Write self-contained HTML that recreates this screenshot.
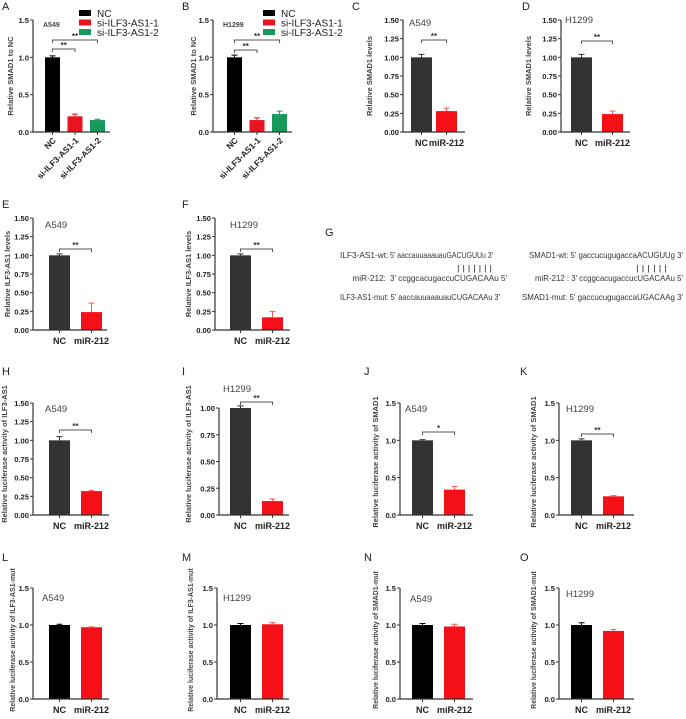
<!DOCTYPE html>
<html><head><meta charset="utf-8"><style>
html,body{margin:0;padding:0;background:#fff}
svg{display:block;font-family:"Liberation Sans",sans-serif}
</style></head><body>
<svg id="fig" width="686" height="719" viewBox="0 0 686 719" xmlns="http://www.w3.org/2000/svg">
<g id="gtext" font-size="8.3" fill="#333">
<text x="325" y="236" font-size="11" fill="#222">G</text>
<text x="340" y="258">ILF3-AS1-wt:</text>
<text x="390" y="258" textLength="103" lengthAdjust="spacingAndGlyphs">5' aaccauuaaauauGACUGUUu 3'</text>
<text x="457" y="271" textLength="35" lengthAdjust="spacingAndGlyphs">| | | | | | |</text>
<text x="386" y="281" text-anchor="end">miR-212:</text>
<text x="390" y="281" textLength="117" lengthAdjust="spacingAndGlyphs">3' ccggcacugaccuCUGACAAu  5'</text>
<text x="340" y="300" textLength="160" lengthAdjust="spacingAndGlyphs">ILF3-AS1-mut: 5' aaccauuaaauauCUGACAAu  3'</text>
<text x="529" y="258" textLength="154" lengthAdjust="spacingAndGlyphs">SMAD1-wt: 5' gaccucugugaccaACUGUUg   3'</text>
<text x="636" y="271" textLength="31" lengthAdjust="spacingAndGlyphs">| | | | | |</text>
<text x="535" y="281" textLength="148" lengthAdjust="spacingAndGlyphs">miR-212 : 3' ccggcacugaccucUGACAAu    5'</text>
<text x="522" y="300" textLength="161" lengthAdjust="spacingAndGlyphs">SMAD1-mut: 5' gaccucugugaccaUGACAAg   3'</text>
</g>
</svg>
<script>
const catsAB = ["NC","si-ILF3-AS1-1","si-ILF3-AS1-2"];
const cats2 = ["NC","miR-212"];
const valsA = [1.0, 0.21, 0.16];
const errA = [0.02, 0.03, 0.01];
const valsB = [1.0, 0.16, 0.24];
const errB = [0.03, 0.03, 0.04];
const valsC = [1.0, 0.28];
const errC = [0.04, 0.04];
const valsD = [1.0, 0.24];
const errD = [0.04, 0.04];
const valsE = [1.0, 0.24];
const errE = [0.02, 0.12];
const valsF = [1.0, 0.17];
const errF = [0.02, 0.08];
const valsH = [1.0, 0.32];
const errH = [0.05, 0.01];
const valsI = [1.0, 0.13];
const errI = [0.02, 0.02];
const valsJ = [1.0, 0.34];
const errJ = [0.01, 0.04];
const valsK = [1.0, 0.25];
const errK = [0.02, 0.01];
const valsL = [1.0, 0.97];
const errL = [0.01, 0.005];
const valsM = [1.0, 1.01];
const errM = [0.02, 0.02];
const valsN = [1.0, 0.98];
const errN = [0.02, 0.03];
const valsO = [1.0, 0.92];
const errO = [0.03, 0.02];
const ticks15h = [0, 0.5, 1.0, 1.5];
const ticks15q = [0, 0.25, 0.5, 0.75, 1.0, 1.25, 1.5];
const ticks10q = [0, 0.25, 0.5, 0.75, 1.0];

const NS = "http://www.w3.org/2000/svg";
const svg = document.getElementById("fig");
function mk(tag, attrs, parent, txt){
  const e = document.createElementNS(NS, tag);
  for (const k in attrs) e.setAttribute(k, attrs[k]);
  if (txt !== undefined) e.textContent = txt;
  (parent || svg).appendChild(e);
  return e;
}
const RED = "#f50f16", GREEN = "#18985a";
function panel(p){
  const g = mk("g", {});
  
  
  const y = v => p.y0 - (v / p.ymax) * (p.y0 - p.y1);
  const xb = i => p.first + i * p.step;
  const lab = mk("text", {x: p.lx, y: p.ly, "font-size": 11, fill: "#222"}, g, p.id);
  
  
  p.vals.forEach((v, i) => {
    const col = p.colors[i];
    const r = mk("rect", {x: xb(i), y: y(v), width: p.w, height: p.y0 - y(v), fill: col}, g);
    
    
    const cx = xb(i) + p.w / 2, ye = y(v + p.err[i]);
    const ecol = col === RED ? "#f55" : col;
    const el = mk("path", {d: `M${cx} ${y(v)}V${ye}M${cx-3} ${ye}H${cx+3}`, stroke: ecol, "stroke-width": 1, fill: "none"}, g);
    
    
    mk("line", {x1: cx, x2: cx, y1: p.y0, y2: p.y0 + 3, stroke: "#333", "stroke-width": 1}, g);
    if (p.rot) {
      const t = mk("text", {x: cx + 4, y: p.y0 + 9, "font-size": 8.5, "font-weight": "bold", fill: "#222", "text-anchor": "end", transform: `rotate(-45 ${cx+4} ${p.y0+9})`}, g, p.cats[i]);
      
      
    } else {
      const t = mk("text", {x: cx, y: p.y0 + 14, "font-size": 9, "font-weight": "bold", fill: "#222", "text-anchor": "middle"}, g, p.cats[i]);
      
      
    }
  });
  const ax = mk("path", {d: `M${p.x0} ${p.y1}V${p.y0}H${p.xend}`, stroke: "#333", "stroke-width": 1.2, fill: "none"}, g);
  
  
  p.ticks.forEach(t => {
    mk("line", {x1: p.x0 - 3, x2: p.x0, y1: y(t), y2: y(t), stroke: "#333", "stroke-width": 1}, g);
    const tl = mk("text", {x: p.x0 - 4, y: y(t) + 3, "font-size": 7.6, "font-weight": "bold", fill: "#222", "text-anchor": "end"}, g, t.toFixed(p.dec));
    
    
  });
  const yt = mk("text", {x: p.tx, y: p.ty, "font-size": p.tfs || 7.5, "font-weight": "bold", fill: "#444", "text-anchor": "middle", transform: `rotate(-90 ${p.tx} ${p.ty})`}, g, p.title);
  
  
  const cl = mk("text", {x: p.cx, y: p.cy, "font-size": p.small ? 7 : 9.5, "font-weight": p.small ? "bold" : "normal", fill: "#444"}, g, p.cell);
  
  
  (p.sig || []).forEach(s => {
    const a = xb(s[0]) + p.w / 2, b = xb(s[1]) + p.w / 2;
    const br = mk("path", {d: `M${a} ${s[2]+3}V${s[2]}H${b}V${s[2]+3}`, stroke: "#555", "stroke-width": 1, fill: "none"}, g);
    
    
    const st = mk("text", {x: (a + b) / 2, y: s[2] - 1, "font-size": 8, "font-weight": "bold", fill: "#333", "text-anchor": "middle"}, g, s[3]);
    
    
  });
  if (p.legend) {
    p.cats.forEach((c, i) => {
      const sw = mk("rect", {x: p.legend, y: 10 + i * 9.5, width: 12, height: 6, fill: p.colors[i]}, g);
      
      
      const lt = mk("text", {x: p.legend + 18, y: 17 + i * 9.5, "font-size": 10, fill: "#222"}, g, c);
      
      
    });
  }
}
const K3 = ["#000", "#e8141f", GREEN];
const DK = ["#333", RED], BK = ["#000", RED];
const tSM = "Relative luciferase activity of SMAD1";
const tIL = "Relative luciferase activity of ILF3-AS1";
panel({id:"A",lx:2,ly:10,x0:33,xend:110,y0:132,y1:20,ymax:1.5,ticks:ticks15h,dec:1,first:45,step:22.5,w:15,vals:valsA,err:errA,cats:catsAB,colors:K3,rot:true,tx:13,ty:76,title:"Relative SMAD1 to NC",cell:"A549",cx:43,cy:27,small:true,sig:[[0,1,49,"**"],[0,2,40,"**"]],legend:79});
panel({id:"B",lx:182,ly:10,x0:213,xend:292,y0:132,y1:20,ymax:1.5,ticks:ticks15h,dec:1,first:227,step:22.5,w:15,vals:valsB,err:errB,cats:catsAB,colors:K3,rot:true,tx:196,ty:76,title:"Relative SMAD1 to NC",cell:"H1299",cx:223,cy:27,small:true,sig:[[0,1,50,"**"],[0,2,40,"**"]],legend:263});
panel({id:"C",lx:352,ly:10,x0:403,xend:465,y0:132,y1:20,ymax:1.5,ticks:ticks15q,dec:2,first:411,step:25,w:21,vals:valsC,err:errC,cats:cats2,colors:DK,tx:372,ty:76,title:"Relative SMAD1 levels",cell:"A549",cx:409,cy:26,sig:[[0,1,40,"**"]]});
panel({id:"D",lx:522,ly:10,x0:561,xend:630,y0:132,y1:20,ymax:1.5,ticks:ticks15q,dec:2,first:571,step:31,w:21,vals:valsD,err:errD,cats:cats2,colors:DK,tx:531,ty:76,title:"Relative SMAD1 levels",cell:"H1299",cx:565,cy:23,sig:[[0,1,41,"**"]]});
panel({id:"E",lx:2,ly:208,x0:33,xend:107,y0:330,y1:218,ymax:1.5,ticks:ticks15q,dec:2,first:49,step:32,w:21,vals:valsE,err:errE,cats:cats2,colors:DK,tx:10,ty:274,title:"Relative ILF3-AS1 levels",cell:"A549",cx:45,cy:228,sig:[[0,1,249,"**"]]});
panel({id:"F",lx:182,ly:208,x0:215,xend:290,y0:330,y1:218,ymax:1.5,ticks:ticks15q,dec:2,first:230,step:32,w:21,vals:valsF,err:errF,cats:cats2,colors:DK,tx:191,ty:274,title:"Relative ILF3-AS1 levels",cell:"H1299",cx:230,cy:228,sig:[[0,1,249,"**"]]});
panel({id:"H",lx:2,ly:375,x0:33,xend:109,y0:515,y1:403,ymax:1.5,ticks:ticks15q,dec:2,first:49,step:32,w:21,vals:valsH,err:errH,cats:cats2,colors:DK,tx:7,ty:454,title:tIL,cell:"A549",cx:45,cy:412,sig:[[0,1,430,"**"]]});
panel({id:"I",lx:182,ly:375,x0:219,xend:289,y0:515,y1:408,ymax:1.0,ticks:ticks10q,dec:2,first:230,step:32,w:21,vals:valsI,err:errI,cats:cats2,colors:DK,tx:191,ty:454,title:tIL,cell:"H1299",cx:223,cy:392,sig:[[0,1,402,"**"]]});
panel({id:"J",lx:364,ly:375,x0:400,xend:473,y0:515,y1:403,ymax:1.5,ticks:ticks15h,dec:1,first:412,step:32,w:21,vals:valsJ,err:errJ,cats:cats2,colors:DK,tx:378,ty:462,title:tSM,cell:"A549",cx:405,cy:412,sig:[[0,1,432,"*"]]});
panel({id:"K",lx:520,ly:375,x0:559,xend:634,y0:515,y1:403,ymax:1.5,ticks:ticks15h,dec:1,first:571,step:32,w:21,vals:valsK,err:errK,cats:cats2,colors:DK,tx:536,ty:462,title:tSM,cell:"H1299",cx:566,cy:412,sig:[[0,1,434,"**"]]});
panel({id:"L",lx:2,ly:561,x0:33,xend:109,y0:699,y1:588,ymax:1.5,ticks:ticks15h,dec:1,first:49,step:32,w:21,vals:valsL,err:errL,cats:cats2,colors:BK,tx:15,ty:640,title:"Relative luciferase activity of ILF3-AS1-mut",tfs:7,cell:"A549",cx:42,cy:601});
panel({id:"M",lx:182,ly:561,x0:217,xend:289,y0:699,y1:588,ymax:1.5,ticks:ticks15h,dec:1,first:230,step:32,w:21,vals:valsM,err:errM,cats:cats2,colors:BK,tx:193,ty:640,title:"Relative luciferase activity of ILF3-AS1-mut",tfs:7,cell:"H1299",cx:223,cy:601});
panel({id:"N",lx:364,ly:561,x0:400,xend:473,y0:699,y1:588,ymax:1.5,ticks:ticks15h,dec:1,first:412,step:32,w:21,vals:valsN,err:errN,cats:cats2,colors:BK,tx:378,ty:640,title:"Relative luciferase activity of SMAD1-mut",tfs:7,cell:"A549",cx:410,cy:602});
panel({id:"O",lx:520,ly:561,x0:559,xend:634,y0:699,y1:588,ymax:1.5,ticks:ticks15h,dec:1,first:571,step:32,w:21,vals:valsO,err:errO,cats:cats2,colors:BK,tx:536,ty:640,title:"Relative luciferase activity of SMAD1-mut",tfs:7,cell:"H1299",cx:566,cy:597});
</script>
</body></html>
